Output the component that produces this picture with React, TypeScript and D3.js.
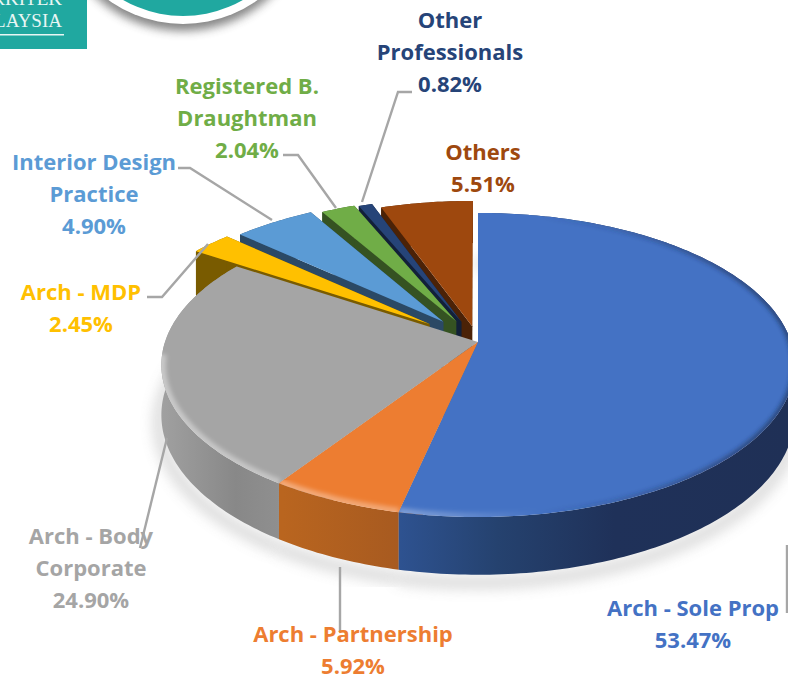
import React from 'react';
import * as d3 from 'd3';

const categories = ['Arch - Sole Prop', 'Arch - Partnership', 'Arch - Body Corporate', 'Arch - MDP', 'Interior Design Practice', 'Registered B. Draughtman', 'Other Professionals', 'Others'];
const values = [53.47, 5.92, 24.9, 2.45, 4.9, 2.04, 0.82, 5.51];
const colors = ['#4472C4', '#ED7D31', '#A5A5A5', '#FFC000', '#5B9BD5', '#70AD47', '#264478', '#9E480E'];
const explode = [0, 0, 0, 0.2, 0.18, 0.16, 0.15, 0.11];

// label lines, center x, first baseline
const labelLines = [['Arch - Sole Prop'], ['Arch - Partnership'], ['Arch - Body', 'Corporate'], ['Arch - MDP'], ['Interior Design', 'Practice'], ['Registered B.', 'Draughtman'], ['Other', 'Professionals'], ['Others']];
const labelX = [693, 353, 91, 81, 94, 247, 450, 483];
const labelY = [616, 642, 544, 300, 170, 94, 28, 160];
const leaders = [
  [[787, 545], [787, 613]],
  [[340, 567], [340, 632]],
  [[167, 438], [140, 548]],
  [[147, 297], [162, 297], [208, 244]],
  [[178, 168], [190, 168], [272, 220]],
  [[283, 155], [298, 155], [336, 208]],
  [[412, 92], [398, 92], [362, 202]],
];

const apexX = 478;
const apexY = 342;
const persp = 0.151;
const scaleX = 313;
const scaleY = 148.6;
const depth = 49;

// disc plane -> screen, with the perspective of the 3D pie
const project = (u: number, v: number, down = false): [number, number] => {
  const w = 1 - persp * v;
  return [apexX + (scaleX * u) / w, apexY + (scaleY * v) / w + (down ? depth / w : 0)];
};

const arcs = d3.pie<number>().sort(null)(values);
const line = d3.line();

const sliceShape = (i: number) => {
  const a = arcs[i];
  const mid = (a.startAngle + a.endAngle) / 2;
  const ox = explode[i] * Math.sin(mid);
  const oy = -explode[i] * Math.cos(mid);
  const steps = Math.max(3, Math.ceil((a.endAngle - a.startAngle) * 60));
  const angles = d3.range(steps + 1).map((k) => a.startAngle + ((a.endAngle - a.startAngle) * k) / steps);
  const rim = (down: boolean) => angles.map((t) => project(ox + Math.sin(t), oy - Math.cos(t), down));
  const top = rim(false);
  const bottom = rim(true);
  const c = project(ox, oy);
  const cDown = project(ox, oy, true);
  return {
    top: line([c, ...top])! + 'Z',
    rimPath: line(top)!,
    // the light bevel only runs along the front of the disc
    rimFront: line(top.filter((p) => p[1] > apexY + 10))!,
    wall: line([...top, ...bottom.slice().reverse()])! + 'Z',
    startWall: line([c, top[0], bottom[0], cDown])! + 'Z',
    endWall: line([c, top[steps], bottom[steps], cDown])! + 'Z',
    shadow: line(bottom)!,
  };
};

const shapes = values.map((_, i) => sliceShape(i));
const drawOrder = [7, 6, 5, 4, 3, 2, 1, 0];
const wallDark = (c: string, k: number) => d3.rgb(c).darker(k).formatHex();

export default function App() {
  const bodyFont = '"Open Sans", sans-serif';
  return (
    <svg width={788} height={677} style={{ position: 'absolute', left: 0, top: 0 }}>
      <defs>
        <filter id="blur8" x="-30%" y="-30%" width="160%" height="160%"><feGaussianBlur stdDeviation="7" /></filter>
        <filter id="blur5" x="-30%" y="-30%" width="160%" height="160%"><feGaussianBlur stdDeviation="5" /></filter>
        <filter id="blur2" x="-10%" y="-10%" width="120%" height="120%"><feGaussianBlur stdDeviation="2" /></filter>
        <linearGradient id="wall0" gradientUnits="userSpaceOnUse" x1={400} x2={790} y1={0} y2={0}>
          <stop offset="0" stopColor="#2E5290" />
          <stop offset="0.25" stopColor="#25426F" />
          <stop offset="0.55" stopColor="#1F3159" />
          <stop offset="1" stopColor="#1F3056" />
        </linearGradient>
        <linearGradient id="wall1" gradientUnits="userSpaceOnUse" x1={283} x2={402} y1={0} y2={0}>
          <stop offset="0" stopColor="#B9651F" />
          <stop offset="1" stopColor="#A75A20" />
        </linearGradient>
        <linearGradient id="wall2" gradientUnits="userSpaceOnUse" x1={162} x2={285} y1={0} y2={0}>
          <stop offset="0" stopColor="#A0A0A0" />
          <stop offset="0.6" stopColor="#888888" />
          <stop offset="1" stopColor="#909090" />
        </linearGradient>
        {/* rim bevel: light at the front left, dark soft edge at the right */}
        <linearGradient id="bevelLight" gradientUnits="userSpaceOnUse" x1={160} x2={540} y1={0} y2={0}>
          <stop offset="0" stopColor="#fff" stopOpacity={0.4} />
          <stop offset="0.65" stopColor="#fff" stopOpacity={0.3} />
          <stop offset="1" stopColor="#fff" stopOpacity={0} />
        </linearGradient>
        <linearGradient id="bevelDark" gradientUnits="userSpaceOnUse" x1={540} x2={760} y1={0} y2={0}>
          <stop offset="0" stopColor="#1F3056" stopOpacity={0} />
          <stop offset="1" stopColor="#1F3056" stopOpacity={0.65} />
        </linearGradient>
      </defs>

      {/* logo fragments cut by the crop */}
      <rect x={0} y={0} width={87} height={49} fill="#20A8A0" />
      <text x={62} y={5} textAnchor="end" fontFamily='"Liberation Serif", serif' fontSize={19} fill="#E8F6F4">ARKITEK</text>
      <text x={62} y={27} textAnchor="end" fontFamily='"Liberation Serif", serif' fontSize={19} fill="#E8F6F4">MALAYSIA</text>
      <rect x={0} y={34} width={64} height={1.5} fill="#E8F6F4" />
      <circle cx={183} cy={-104} r={128} fill="#444" opacity={0.65} transform="translate(0,7)" filter="url(#blur5)" />
      <circle cx={183} cy={-104} r={128} fill="#fff" />
      <circle cx={183} cy={-104} r={120} fill="#20A8A0" />

      {/* soft shadow under the pie */}
      {[0, 1, 2].map((i) => (
        <path key={i} d={shapes[i].shadow} fill="none" stroke="#999" strokeWidth={10} opacity={0.45} filter="url(#blur8)" transform="translate(-2,8)" />
      ))}

      {drawOrder.map((i) => {
        const s = shapes[i];
        const wallFill = i <= 2 ? `url(#wall${i})` : wallDark(colors[i], 1.7);
        return (
          <g key={categories[i]}>
            {i === 0 && <path d={line([[apexX - 3, apexY - 118], [apexX - 3, apexY]])!} stroke="#ccc" strokeWidth={5} filter="url(#blur2)" />}
            <path d={s.wall} fill={wallFill} />
            <path d={s.startWall} fill={i <= 2 ? wallFill : wallDark(colors[i], 2.1)} />
            {i > 2 && <path d={s.endWall} fill={wallDark(colors[i], 2.1)} />}
            <path d={s.top} fill={colors[i]} />
            {i <= 2 && (
              <g clipPath={`url(#clip${i})`}>
                <clipPath id={`clip${i}`}><path d={s.top} /></clipPath>
                <path d={s.rimFront} fill="none" stroke="url(#bevelLight)" strokeWidth={9} filter="url(#blur2)" />
                {i === 0 && <path d={s.rimPath} fill="none" stroke="url(#bevelDark)" strokeWidth={6} filter="url(#blur2)" />}
              </g>
            )}
          </g>
        );
      })}

      {leaders.map((pts, i) => (
        <path key={i} d={line(pts as [number, number][])!} fill="none" stroke="#A6A6A6" strokeWidth={2.4} />
      ))}

      {categories.map((c, i) => {
        const rows = [...labelLines[i], d3.format('.2f')(values[i]) + '%'];
        return (
          <text key={c} fontFamily={bodyFont} fontWeight={700} fontSize={22} fill={colors[i]} textAnchor="middle">
            {rows.map((r, k) => (
              <tspan key={k} x={labelX[i]} y={labelY[i] + k * 32}>{r}</tspan>
            ))}
          </text>
        );
      })}
    </svg>
  );
}
